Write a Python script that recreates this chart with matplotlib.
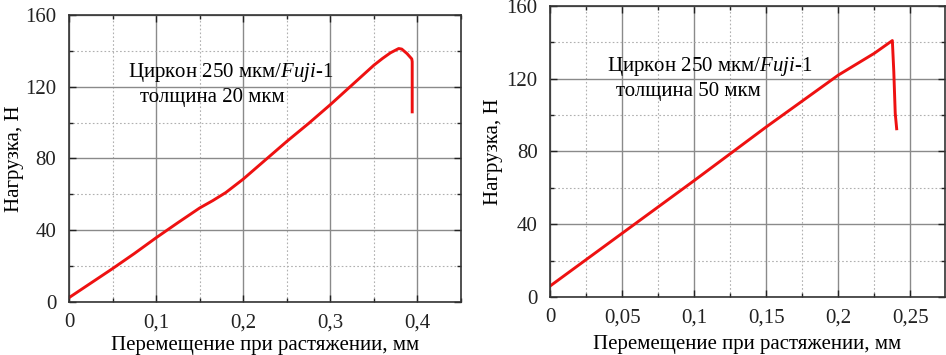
import matplotlib
matplotlib.use("Agg")
import matplotlib.pyplot as plt
from matplotlib.ticker import MultipleLocator, FuncFormatter

plt.rcParams["font.family"] = ["Liberation Serif", "DejaVu Serif"]
plt.rcParams["mathtext.fontset"] = "custom"
plt.rcParams["mathtext.rm"] = "Liberation Serif"
plt.rcParams["mathtext.it"] = "Liberation Serif:italic"

# left panel: thickness 20 um
left_x = [0, 0.025, 0.05, 0.075, 0.1, 0.125, 0.15, 0.165, 0.18, 0.2, 0.225, 0.25,
          0.275, 0.3, 0.325, 0.35, 0.36, 0.369, 0.3785, 0.382, 0.388, 0.3935, 0.394, 0.394]
left_y = [2.4, 10.5, 18.6, 27, 35.8, 44.2, 52.4, 56.5, 61, 68.5, 79, 89.5,
          99.5, 110, 121, 132, 135.8, 138.9, 141.3, 141, 138.5, 135.5, 134, 106]

# right panel: thickness 50 um
right_x = [0, 0.05, 0.1, 0.15, 0.2, 0.225, 0.2375, 0.2385, 0.2395, 0.2405]
right_y = [6, 35, 64, 93.5, 122, 134, 141, 124, 101, 92.5]

xlabel = "Перемещение при растяжении, мм"
ylabel = "Нагрузка, Н"
label_left = ["Циркон 250 мкм/$\\mathit{Fuji}$-1", "толщина 20 мкм"]
label_right = ["Циркон 250 мкм/$\\mathit{Fuji}$-1", "толщина 50 мкм"]

fs = 15


def comma(v, pos):
    return f"{v:g}".replace(".", ",")


def style_axes(ax, xmax, xmajor, xminor, ylab_x, xlab_y):
    ax.set_xlim(0, xmax)
    ax.set_ylim(0, 160)
    ax.xaxis.set_major_locator(MultipleLocator(xmajor))
    ax.xaxis.set_minor_locator(MultipleLocator(xminor))
    ax.yaxis.set_major_locator(MultipleLocator(40))
    ax.yaxis.set_minor_locator(MultipleLocator(20))
    ax.xaxis.set_major_formatter(FuncFormatter(comma))
    ax.grid(which="major", color="#8a8a8a", linewidth=1.0, linestyle="-")
    ax.grid(which="minor", color="#b0b0b0", linewidth=0.8, linestyle=(0, (1.5, 2)))
    ax.set_axisbelow(True)
    ax.tick_params(which="both", direction="in", top=True, right=True,
                   labelsize=fs, colors="#222222")
    ax.tick_params(which="major", length=5, width=1)
    ax.tick_params(which="minor", length=3, width=1)
    ax.tick_params(axis="x", pad=8)
    ax.tick_params(axis="y", pad=9)
    for sp in ax.spines.values():
        sp.set_color("#333333")
        sp.set_linewidth(1.2)
    ax.set_xlabel(xlabel, fontsize=fs)
    ax.set_ylabel(ylabel, fontsize=fs)
    ax.yaxis.set_label_coords(ylab_x, 0.5)
    ax.xaxis.set_label_coords(0.5, xlab_y)


fig = plt.figure(figsize=(9.46, 3.55), dpi=100)
ax1 = fig.add_axes([0.0729, 0.1493, 0.4144, 0.8085])
ax2 = fig.add_axes([0.5814, 0.1634, 0.4175, 0.8197])

ax1.plot(left_x, left_y, color="#ee1111", linewidth=2.1)
style_axes(ax1, 0.45, 0.1, 0.05, -0.115, -0.117)
ax1.text(0.068, 128, label_left[0], fontsize=fs, va="center", ha="left")
ax1.text(0.082, 114, label_left[1], fontsize=fs, va="center", ha="left")

ax2.plot(right_x, right_y, color="#ee1111", linewidth=2.1)
style_axes(ax2, 0.274, 0.05, 0.025, -0.12, -0.132)
ax2.text(0.0394, 126.6, label_right[0], fontsize=fs, va="center", ha="left")
ax2.text(0.0456, 112.9, label_right[1], fontsize=fs, va="center", ha="left")

fig.savefig("out.png", dpi=100)
